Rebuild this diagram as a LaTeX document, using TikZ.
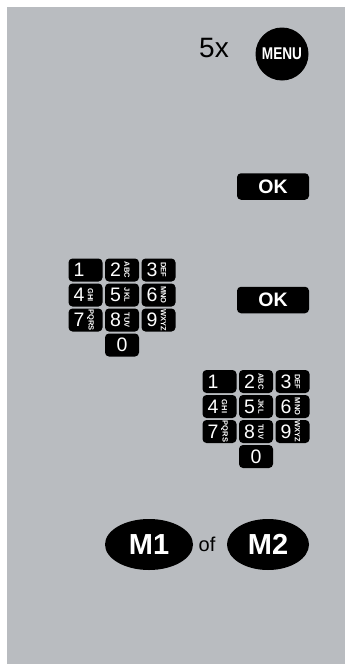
\documentclass[tikz,border=0pt]{standalone}
\usepackage{fontspec}
\setmainfont{Liberation Sans}
\usetikzlibrary{positioning, shapes.geometric}
\definecolor{panelgray}{RGB}{185,188,192}

\begin{document}
\begin{tikzpicture}[x=1pt,y=-1pt,
    keybox/.style={fill=black, rounded corners=4pt, minimum width=34pt, minimum height=23pt, inner sep=0pt},
    digit/.style={text=white, font=\fontsize{19.5}{19.5}\selectfont, inner sep=0pt},
    letters/.style={text=white, font=\bfseries\fontsize{7.5}{7.5}\selectfont, inner sep=0pt, rotate=-90},
    okbox/.style={fill=black, rounded corners=4pt, minimum width=72pt, minimum height=26.5pt, inner sep=0pt,
        text=white, font=\bfseries\fontsize{19.5}{19.5}\selectfont},
    mbutton/.style={ellipse, fill=black, minimum height=51pt, inner sep=0pt,
        text=white, font=\bfseries\fontsize{29}{29}\selectfont}]
    \useasboundingbox (0,0) rectangle (345,664);

    % Panel
    \fill[panelgray] (7,7) rectangle (345,664);

    % Menu key, pressed five times
    \node[circle, fill=black, minimum size=53pt, inner sep=0pt] (menu) at (282,54)
        {\textcolor{white}{\bfseries\fontsize{17}{17}\selectfont\scalebox{0.8}[1]{MENU}}};
    \node[font=\fontsize{28}{28}\selectfont, inner sep=0pt] (times) at (214,48) {5x};

    % OK keys
    \node[okbox] (ok1) at (273,186.5) {OK};
    \node[okbox] (ok2) at (273,300) {OK};

    % Keypads
    \foreach \pad/\ox/\oy in {a/85.5/270, b/219.5/381.5} {
        \foreach \d/\l/\c/\r in {1//0/0, 2/ABC/1/0, 3/DEF/2/0,
                                 4/GHI/0/1, 5/JKL/1/1, 6/MNO/2/1,
                                 7/PQRS/0/2, 8/TUV/1/2, 9/WXYZ/2/2, 0//1/3} {
            \node[keybox] (\pad-\d) at (\ox+36.5*\c, \oy+25*\r) {};
            \ifnum\d=0
                \node[digit] (\pad-\d-n) at (\pad-\d) {\d};
            \else
                \node[digit] (\pad-\d-n) at ([xshift=-6.5pt]\pad-\d.center) {\d};
                \node[letters] (\pad-\d-l) at ([xshift=5pt]\pad-\d.center) {\l};
            \fi
        }
    }

    % Memory keys
    \node[mbutton, minimum width=88pt] (m1) at (149,544.5) {M1};
    \node[mbutton, minimum width=82pt] (m2) at (268,544.5) {M2};
    \node[font=\fontsize{20}{20}\selectfont, inner sep=0pt] (or) at (207,544.5) {of};
\end{tikzpicture}
\end{document}
